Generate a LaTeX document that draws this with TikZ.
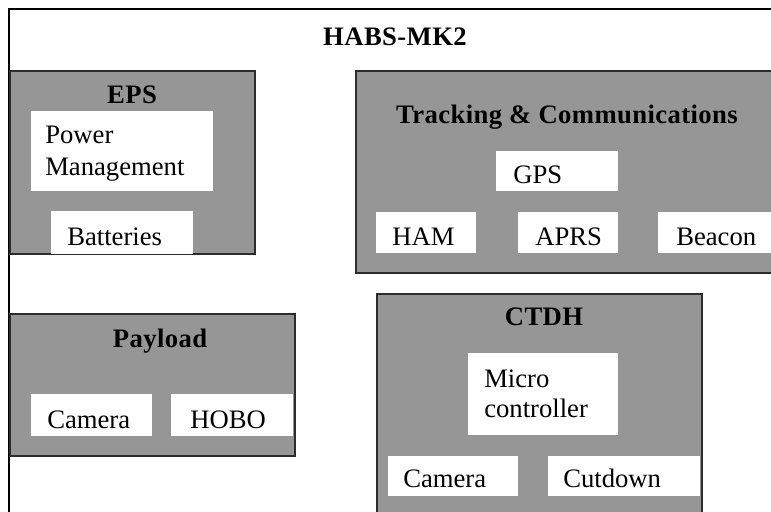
\documentclass[tikz,border=0pt]{standalone}
\usepackage{fontspec}
\setmainfont{Liberation Serif}
\newfontfamily\titlefont[LetterSpace=1.5]{Liberation Serif}
\usetikzlibrary{fit}
\definecolor{boxgray}{RGB}{150,150,150}
\definecolor{edgegray}{RGB}{45,45,45}
\begin{document}
\begin{tikzpicture}[x=0.75pt,y=-0.75pt,
  frame/.style={draw=black, line width=1.1pt, inner sep=0pt},
  panel/.style={fill=boxgray, draw=edgegray, line width=1.1pt, inner sep=0pt},
  slot/.style={fill=white, draw=none, inner sep=0pt},
  paneltitle/.style={font=\titlefont\fontsize{20}{23}\selectfont\bfseries, anchor=base, inner sep=0pt},
  itemtext/.style={font=\fontsize{20}{23}\selectfont, anchor=base west, inner sep=0pt, align=left},
]
\useasboundingbox (0,0) rectangle (771,511);
\clip (0,0) rectangle (771,511);

% outer system frame (right and bottom sides lie beyond the page)
\node[frame, fit={(9,9) (800,540)}] (system) {};
\node[paneltitle] (systemtitle) at (395,45) {HABS-MK2};

% Electrical power subsystem
\node[panel, fit={(10,71) (255,254)}] (eps) {};
\node[paneltitle] (epstitle) at (132,103) {EPS};
\node[slot, fit={(31,111) (213,191)}] (powerbox) {};
% multi-line nodes: base anchor sits on the last line
\node[itemtext, font=\fontsize{20}{24}\selectfont] (power) at (45,175) {Power\\Management};
\node[slot, fit={(51,211) (193,254)}] (batterybox) {};
\node[itemtext] (battery) at (67,245) {Batteries};

% Tracking and communications subsystem
\node[panel, fit={(356,71) (790,273)}] (track) {};
\node[paneltitle] (tracktitle) at (567,123) {Tracking \& Communications};
\node[slot, fit={(496,151) (618,191)}] (gpsbox) {};
\node[itemtext] (gps) at (513,183) {GPS};
\node[slot, fit={(376,212) (476,253)}] (hambox) {};
\node[itemtext] (ham) at (392,245) {HAM};
\node[slot, fit={(518,212) (618,253)}] (aprsbox) {};
\node[itemtext] (aprs) at (535,245) {APRS};
\node[slot, fit={(658,212) (790,253)}] (beaconbox) {};
\node[itemtext] (beacon) at (676,245) {Beacon};

% Payload
\node[panel, fit={(10,314) (295,456)}] (payload) {};
\node[paneltitle] (payloadtitle) at (160,347) {Payload};
\node[slot, fit={(31,394) (152,436)}] (pcambox) {};
\node[itemtext] (pcam) at (47,428) {Camera};
\node[slot, fit={(171,394) (293,436)}] (hobobox) {};
\node[itemtext] (hobo) at (190,428) {HOBO};

% Command, telemetry and data handling
\node[panel, fit={(377,294) (702,540)}] (ctdh) {};
\node[paneltitle] (ctdhtitle) at (544,325) {CTDH};
\node[slot, fit={(468,353) (618,435)}] (mcubox) {};
\node[itemtext, font=\fontsize{20}{22}\selectfont] (mcu) at (484,417) {Micro\\controller};
\node[slot, fit={(388,456) (518,496)}] (ccambox) {};
\node[itemtext] (ccam) at (403,487) {Camera};
\node[slot, fit={(548,456) (700,496)}] (cutbox) {};
\node[itemtext] (cut) at (563,487) {Cutdown};
\end{tikzpicture}
\end{document}
